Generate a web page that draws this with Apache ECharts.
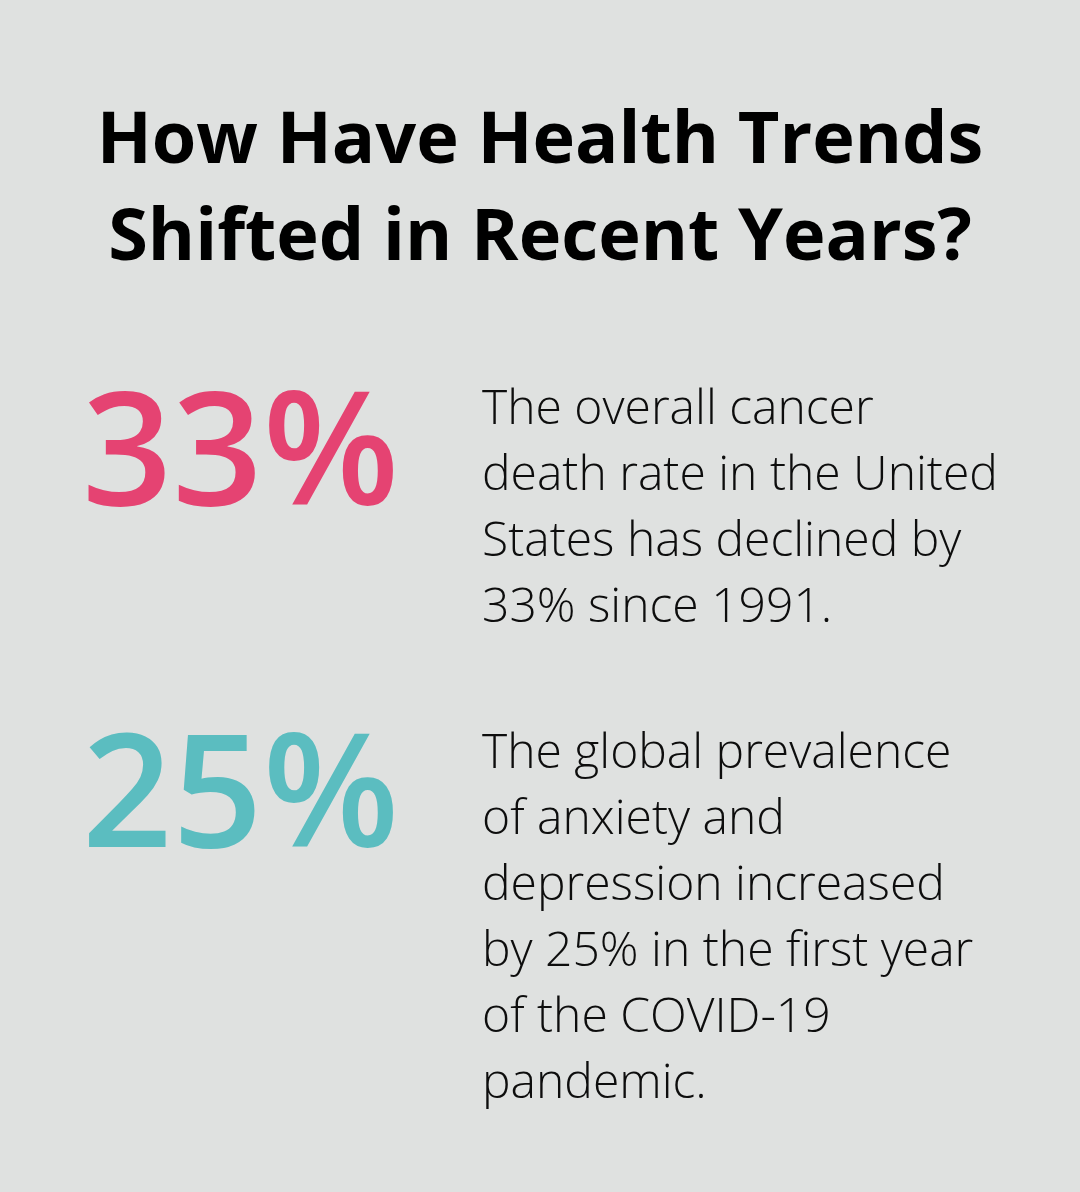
<!DOCTYPE html>
<html>
<head>
<meta charset="utf-8">
<script src="https://cdn.jsdelivr.net/npm/echarts@6/dist/echarts.min.js"></script>
<style>
html,body{margin:0;padding:0;background:#dfe1e0;}
#main{width:1080px;height:1192px;}
</style>
</head>
<body>
<div id="main"></div>
<script>
const titleLines = ['How Have Health Trends', 'Shifted in Recent Years?'];
const statValues = ['33%', '25%'];
const statColors = ['#e54372', '#5bbdc0'];
const statDescriptions = [
  ['The overall cancer', 'death rate in the United', 'States has declined by', '33% since 1991.'],
  ['The global prevalence', 'of anxiety and', 'depression increased', 'by 25% in the first year', 'of the COVID-19', 'pandemic.']
];

const chart = echarts.init(document.getElementById('main'), null, {renderer: 'canvas'});
const font = '"Open Sans", "Noto Sans", sans-serif';
const elements = [];

titleLines.forEach((t, i) => {
  elements.push({
    type: 'text', x: 540, y: 142 + i * 97,
    style: {text: t, fill: '#000', font: 'bold 72px ' + font, align: 'center', verticalAlign: 'middle'}
  });
});

const statTops = [460, 802];
const descTops = [410, 754];
statValues.forEach((v, k) => {
  elements.push({
    type: 'text', x: 82, y: statTops[k],
    style: {text: v, fill: statColors[k], font: '600 158px ' + font, align: 'left', verticalAlign: 'middle'}
  });
  statDescriptions[k].forEach((line, i) => {
    elements.push({
      type: 'text', x: 482, y: descTops[k] + i * 66,
      style: {text: line, fill: '#0d0d0d', font: '300 48px ' + font, align: 'left', verticalAlign: 'middle'}
    });
  });
});

chart.setOption({
  backgroundColor: '#dfe1e0',
  animation: false,
  graphic: {elements: elements}
});
</script>
</body>
</html>
